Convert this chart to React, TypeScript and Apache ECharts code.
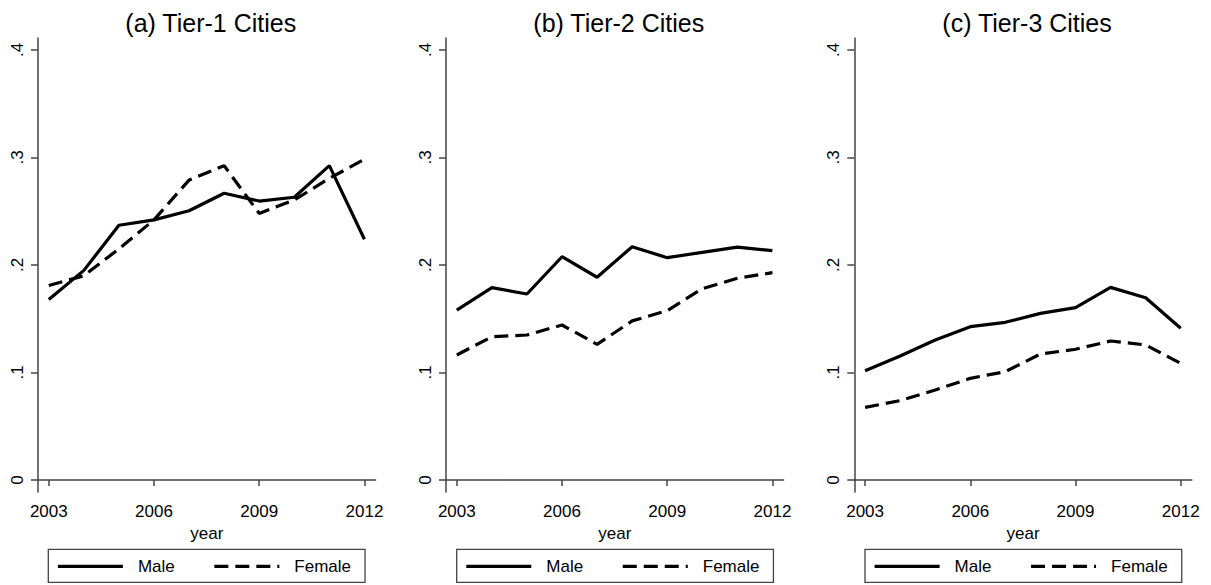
import React, { useEffect, useRef } from "react";
import * as echarts from "echarts";

const years = [2003, 2004, 2005, 2006, 2007, 2008, 2009, 2010, 2011, 2012];
const panelTitles = ["(a) Tier-1 Cities", "(b) Tier-2 Cities", "(c) Tier-3 Cities"];
const seriesNames = ["Male", "Female"];

const tier1Male = [0.168, 0.195, 0.237, 0.242, 0.2505, 0.2667, 0.2595, 0.263, 0.2924, 0.224];
const tier1Female = [0.181, 0.19, 0.215, 0.242, 0.279, 0.2924, 0.248, 0.2605, 0.2806, 0.2983];
const tier2Male = [0.158, 0.179, 0.173, 0.2077, 0.1886, 0.217, 0.2068, 0.2118, 0.2167, 0.2133];
const tier2Female = [0.1163, 0.1333, 0.1349, 0.1442, 0.1262, 0.148, 0.1575, 0.178, 0.1876, 0.1929];
const tier3Male = [0.1017, 0.1153, 0.1302, 0.1426, 0.1467, 0.155, 0.1603, 0.1792, 0.1696, 0.1411];
const tier3Female = [0.0676, 0.0738, 0.0837, 0.0946, 0.1008, 0.1172, 0.1216, 0.1293, 0.1256, 0.1085];

const maleByPanel = [tier1Male, tier2Male, tier3Male];
const femaleByPanel = [tier1Female, tier2Female, tier3Female];

const yTickValues = [0, 0.1, 0.2, 0.3, 0.4];
const xTickValues = [2003, 2006, 2009, 2012];
const xAxisTitle = "year";

const FONT = "'Liberation Sans', Arial, sans-serif";
const gridLefts = [38, 446, 854.3];
const legendLefts = [48.3, 456.7, 865];
const GRID_W = 337.5;
const GRID_TOP = 38;
const GRID_H = 454;
const AXIS_COLOR = "#444";

export default function App() {
  const ref = useRef<HTMLDivElement>(null);

  useEffect(() => {
    if (!ref.current) return;
    const chart = echarts.init(ref.current, null, { renderer: "svg" });

    const grids = gridLefts.map((l) => ({ left: l, top: GRID_TOP, width: GRID_W, height: GRID_H }));

    const xAxes = gridLefts.map((_, i) => ({
      type: "value",
      gridIndex: i,
      min: 2002.692,
      max: 2012.316,
      name: xAxisTitle,
      nameLocation: "middle",
      nameGap: 28,
      nameTextStyle: { fontSize: 17, color: "#000", fontFamily: FONT },
      splitLine: { show: false },
      axisLine: { show: true, lineStyle: { color: AXIS_COLOR, width: 1.5 } },
      axisTick: {
        show: true,
        length: 6,
        lineStyle: { color: AXIS_COLOR, width: 1.5 },
        customValues: xTickValues,
      },
      axisLabel: {
        show: true,
        margin: 11,
        fontSize: 17,
        color: "#000",
        fontFamily: FONT,
        customValues: xTickValues,
        formatter: (v: number) => String(Math.round(v)),
      },
    }));

    const yAxes = gridLefts.map((_, i) => ({
      type: "value",
      gridIndex: i,
      min: -0.01116,
      max: 0.41116,
      splitLine: { show: false },
      axisLine: { show: true, lineStyle: { color: AXIS_COLOR, width: 1.5 } },
      axisTick: {
        show: true,
        length: 7,
        lineStyle: { color: AXIS_COLOR, width: 1.5 },
        customValues: yTickValues,
      },
      axisLabel: {
        show: true,
        rotate: 90,
        margin: 12,
        fontSize: 17,
        color: "#000",
        fontFamily: FONT,
        customValues: yTickValues,
        formatter: (v: number) => (Math.abs(v) < 1e-9 ? "0" : v.toFixed(1).replace(/^0/, "")),
      },
    }));

    const series: any[] = [];
    gridLefts.forEach((_, i) => {
      series.push({
        name: seriesNames[0],
        type: "line",
        xAxisIndex: i,
        yAxisIndex: i,
        data: years.map((y, k) => [y, maleByPanel[i][k]]),
        symbol: "none",
        color: "#000",
        lineStyle: { color: "#000", width: 3.2, type: "solid" },
      });
      series.push({
        name: seriesNames[1],
        type: "line",
        xAxisIndex: i,
        yAxisIndex: i,
        data: years.map((y, k) => [y, femaleByPanel[i][k]]),
        symbol: "none",
        color: "#000",
        lineStyle: { color: "#000", width: 3.2, type: [14, 7] },
      });
    });

    const titles = gridLefts.map((l, i) => ({
      text: panelTitles[i],
      left: l + GRID_W / 2 - 1,
      top: 5,
      textAlign: "center",
      textStyle: { fontSize: 25, fontWeight: "normal", color: "#000", fontFamily: FONT },
    }));

    const legends = legendLefts.map((l) => ({
      left: l,
      top: 549.3,
      orient: "horizontal",
      padding: [7, 14, 6, 8],
      itemGap: 38,
      itemWidth: 65,
      itemHeight: 14,
      borderColor: AXIS_COLOR,
      borderWidth: 1.3,
      selectedMode: false,
      data: seriesNames,
      itemStyle: { opacity: 0 },
      lineStyle: { width: 3.2, color: "#000" },
      textStyle: { fontSize: 17, color: "#000", fontFamily: FONT, padding: [0, 0, 0, 10], lineHeight: 20 },
    }));

    chart.setOption({
      animation: false,
      backgroundColor: "#fff",
      title: titles,
      legend: legends,
      grid: grids,
      xAxis: xAxes,
      yAxis: yAxes,
      series,
    });

    return () => chart.dispose();
  }, []);

  return (
    <div
      ref={ref}
      style={{ position: "fixed", left: 0, top: 0, width: 1211, height: 585, background: "#fff" }}
    />
  );
}
